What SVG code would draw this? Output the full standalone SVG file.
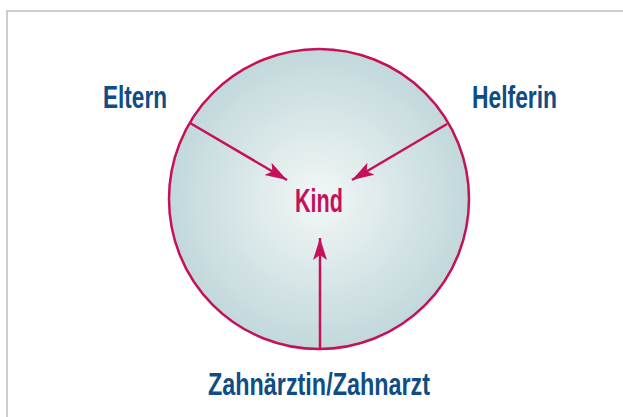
<svg xmlns="http://www.w3.org/2000/svg" width="623" height="417" viewBox="0 0 623 417">
<style>
.lbl{font-family:"Liberation Sans",Arial,sans-serif;font-weight:bold;fill:#0e4d85;font-size:32px}
.kind{font-family:"Liberation Sans",Arial,sans-serif;font-weight:bold;fill:#c5115a;font-size:33px}
.con{stroke:#c5115a;stroke-width:2.5;fill:none;marker-end:url(#ah)}
</style>
<defs>
<radialGradient id="g" cx="0.5" cy="0.5" r="0.5">
<stop offset="0" stop-color="#f2f7f7"/>
<stop offset="1" stop-color="#c2d8db"/>
</radialGradient>
<marker id="ah" markerUnits="userSpaceOnUse" markerWidth="24" markerHeight="16" refX="22" refY="8" orient="auto" viewBox="0 0 24 16">
<path d="M0,1 L22,8 L0,15 L5,8 Z" fill="#c5115a"/>
</marker>
</defs>
<rect width="623" height="417" fill="#fff"/>
<path d="M7,417 V11 H623" fill="none" stroke="#bdbdbd" stroke-width="1.5"/>
<g id="circle">
<circle cx="319" cy="199" r="150" fill="url(#g)" stroke="#c5115a" stroke-width="2.5"/>
</g>
<g id="connectors">
<line class="con" x1="190" y1="123" x2="287" y2="180"/>
<line class="con" x1="447" y1="124" x2="352" y2="180"/>
<line class="con" x1="320" y1="349" x2="320" y2="238"/>
</g>
<g id="eltern"><text class="lbl" x="103" y="108" textLength="64" lengthAdjust="spacingAndGlyphs">Eltern</text></g>
<g id="helferin"><text class="lbl" x="472" y="108" textLength="85" lengthAdjust="spacingAndGlyphs">Helferin</text></g>
<g id="kind"><text class="kind" x="295" y="212" textLength="48" lengthAdjust="spacingAndGlyphs">Kind</text></g>
<g id="zahnarzt"><text class="lbl" x="208" y="395" textLength="222" lengthAdjust="spacingAndGlyphs">Zahnärztin/Zahnarzt</text></g>
</svg>
